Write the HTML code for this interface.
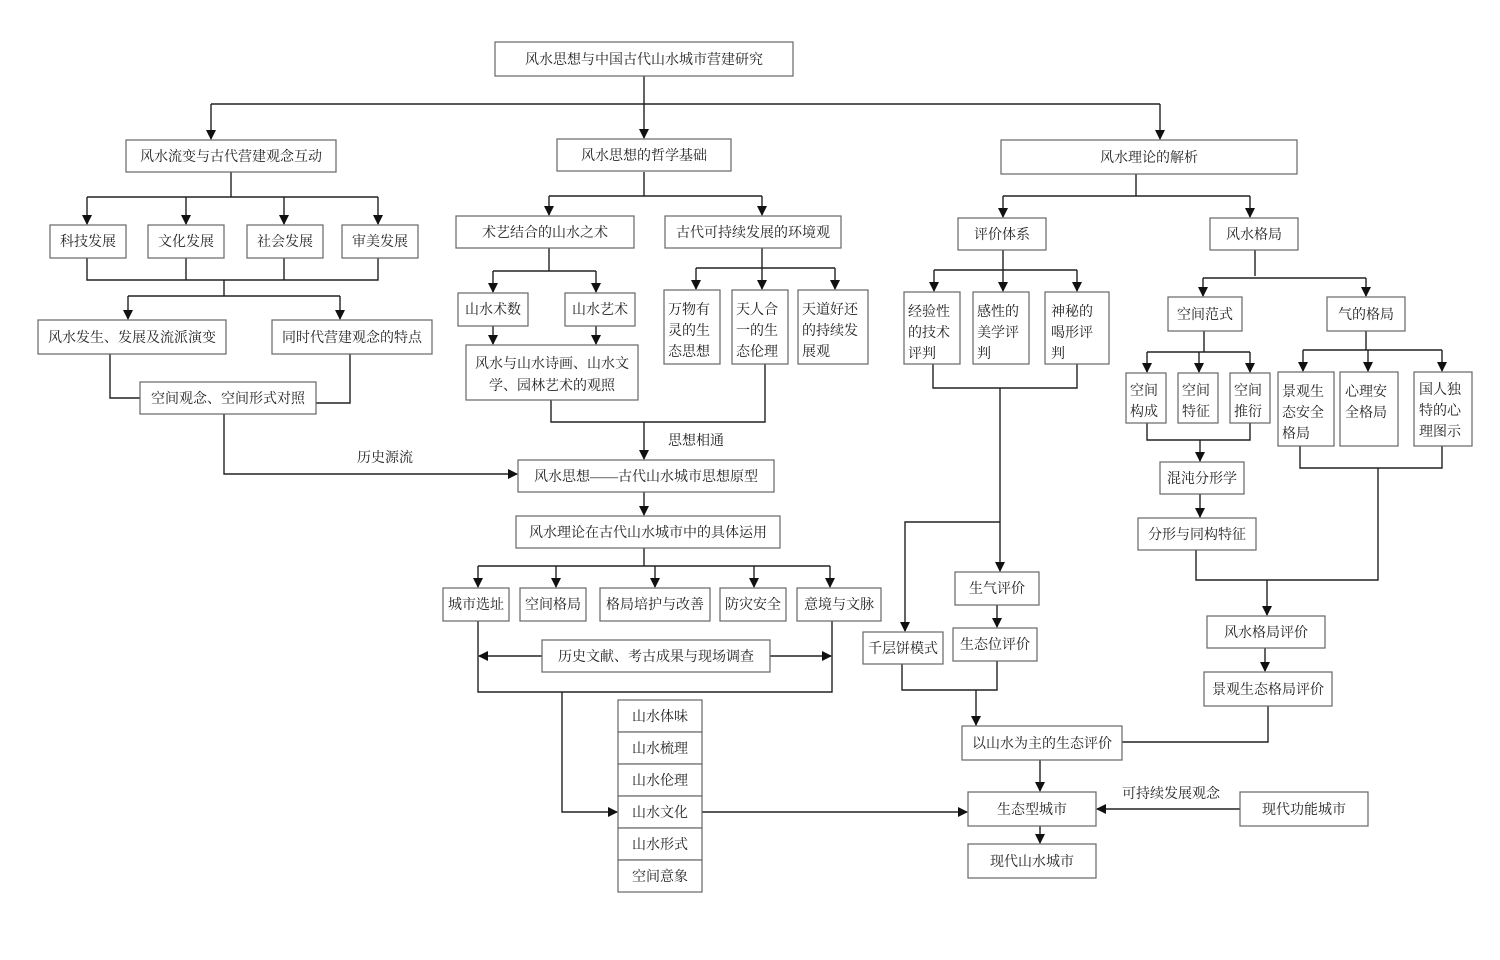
<!DOCTYPE html>
<html><head><meta charset="utf-8"><style>
html,body{margin:0;padding:0;background:#fff;}
svg{display:block}
text{font-family:"Liberation Serif","Noto Serif CJK SC",serif;font-size:14px;fill:#222;}
.b{fill:#fff;stroke:#666;stroke-width:1.2}
.l{stroke:#222;stroke-width:1.4;fill:none}
</style></head><body>
<svg width="1500" height="960" viewBox="0 0 1500 960" xmlns="http://www.w3.org/2000/svg">
<defs><marker id="a" markerWidth="10" markerHeight="10" refX="9" refY="5" orient="auto" markerUnits="userSpaceOnUse"><path d="M0,0 L10,5 L0,10 z" fill="#111"/></marker></defs>
<g class="l">
<path d="M644,76 V104 M211,104 H1160"/>
<path d="M211,104 V139" marker-end="url(#a)"/><path d="M644,104 V138" marker-end="url(#a)"/><path d="M1160,104 V139" marker-end="url(#a)"/>
<!-- left -->
<path d="M231,172 V197 M87,197 H378"/>
<path d="M87,197 V224" marker-end="url(#a)"/><path d="M186,197 V224" marker-end="url(#a)"/><path d="M284,197 V224" marker-end="url(#a)"/><path d="M378,197 V224" marker-end="url(#a)"/>
<path d="M87,258 V280 H378 V258 M186,258 V280 M284,258 V280 M224,280 V296 M128,296 H340"/>
<path d="M128,296 V319" marker-end="url(#a)"/><path d="M340,296 V319" marker-end="url(#a)"/>
<path d="M110,354 V398 H140 M350,354 V403 H316"/>
<path d="M224,414 V474 H517" marker-end="url(#a)"/>
<!-- middle -->
<path d="M644,172 V196 M549,196 H762"/>
<path d="M549,196 V215" marker-end="url(#a)"/><path d="M762,196 V215" marker-end="url(#a)"/>
<path d="M549,248 V271 M493,271 H596"/>
<path d="M493,271 V292" marker-end="url(#a)"/><path d="M596,271 V292" marker-end="url(#a)"/>
<path d="M493,326 V344" marker-end="url(#a)"/><path d="M596,326 V344" marker-end="url(#a)"/>
<path d="M762,248 V268 M696,268 H835"/>
<path d="M696,268 V289" marker-end="url(#a)"/><path d="M762,268 V289" marker-end="url(#a)"/><path d="M835,268 V289" marker-end="url(#a)"/>
<path d="M551,400 V422 H765 V364"/>
<path d="M644,422 V459" marker-end="url(#a)"/>
<path d="M644,492 V515" marker-end="url(#a)"/>
<path d="M644,548 V566 M478,566 H830"/>
<path d="M478,566 V587" marker-end="url(#a)"/><path d="M556,566 V587" marker-end="url(#a)"/><path d="M655,566 V587" marker-end="url(#a)"/><path d="M754,566 V587" marker-end="url(#a)"/><path d="M830,566 V587" marker-end="url(#a)"/>
<path d="M542,656 H479" marker-end="url(#a)"/><path d="M770,656 H831" marker-end="url(#a)"/>
<path d="M478,621 V692 H832 V621"/>
<path d="M562,692 V812 H617" marker-end="url(#a)"/>
<path d="M702,812 H967" marker-end="url(#a)"/>
<!-- right -->
<path d="M1136,174 V196 M1003,196 H1250"/>
<path d="M1003,196 V217" marker-end="url(#a)"/><path d="M1250,196 V217" marker-end="url(#a)"/>
<path d="M1003,250 V270 M934,270 H1077"/>
<path d="M934,270 V291" marker-end="url(#a)"/><path d="M1003,270 V291" marker-end="url(#a)"/><path d="M1077,270 V291" marker-end="url(#a)"/>
<path d="M933,364 V388 H1077 V364"/>
<path d="M1000,388 V571" marker-end="url(#a)"/>
<path d="M1000,522 H905 V631" marker-end="url(#a)"/>
<path d="M997,605 V627" marker-end="url(#a)"/>
<path d="M902,664 V690 H997 V661"/>
<path d="M976,690 V725" marker-end="url(#a)"/>
<path d="M1255,250 V276 M1203,278 H1366"/>
<path d="M1203,278 V296" marker-end="url(#a)"/><path d="M1366,278 V296" marker-end="url(#a)"/>
<path d="M1204,331 V352 M1147,352 H1250"/>
<path d="M1147,352 V372" marker-end="url(#a)"/><path d="M1199,352 V372" marker-end="url(#a)"/><path d="M1250,352 V372" marker-end="url(#a)"/>
<path d="M1147,423 V440 H1250 V423"/>
<path d="M1200,440 V461" marker-end="url(#a)"/>
<path d="M1200,494 V517" marker-end="url(#a)"/>
<path d="M1366,331 V350 M1303,350 H1442"/>
<path d="M1303,350 V371" marker-end="url(#a)"/><path d="M1368,350 V371" marker-end="url(#a)"/><path d="M1442,350 V371" marker-end="url(#a)"/>
<path d="M1300,446 V468 H1442 V446 M1378,468 V580 H1196 V550"/>
<path d="M1267,580 V615" marker-end="url(#a)"/>
<path d="M1265,648 V671" marker-end="url(#a)"/>
<path d="M1268,706 V742 H1122"/>
<path d="M1040,760 V791" marker-end="url(#a)"/>
<path d="M1040,826 V843" marker-end="url(#a)"/>
<path d="M1240,809 H1097" marker-end="url(#a)"/>
</g>
<g>
<rect class="b" x="495" y="42" width="298" height="34"/>
<rect class="b" x="126" y="140" width="210" height="32"/>
<rect class="b" x="557" y="139" width="174" height="32"/>
<rect class="b" x="1001" y="140" width="296" height="34"/>
<rect class="b" x="50" y="225" width="76" height="33"/>
<rect class="b" x="148" y="225" width="76" height="33"/>
<rect class="b" x="247" y="225" width="76" height="33"/>
<rect class="b" x="342" y="225" width="76" height="33"/>
<rect class="b" x="38" y="320" width="188" height="34"/>
<rect class="b" x="272" y="320" width="160" height="34"/>
<rect class="b" x="140" y="382" width="176" height="32"/>
<rect class="b" x="456" y="216" width="178" height="32"/>
<rect class="b" x="665" y="216" width="176" height="32"/>
<rect class="b" x="458" y="293" width="70" height="33"/>
<rect class="b" x="565" y="293" width="70" height="33"/>
<rect class="b" x="466" y="345" width="172" height="55"/>
<rect class="b" x="664" y="290" width="56" height="74"/>
<rect class="b" x="732" y="290" width="56" height="74"/>
<rect class="b" x="798" y="290" width="70" height="74"/>
<rect class="b" x="518" y="460" width="256" height="32"/>
<rect class="b" x="516" y="516" width="264" height="32"/>
<rect class="b" x="443" y="588" width="66" height="33"/>
<rect class="b" x="520" y="588" width="66" height="33"/>
<rect class="b" x="600" y="588" width="110" height="33"/>
<rect class="b" x="720" y="588" width="66" height="33"/>
<rect class="b" x="797" y="588" width="84" height="33"/>
<rect class="b" x="542" y="640" width="228" height="32"/>
<rect class="b" x="618" y="700" width="84" height="32"/>
<rect class="b" x="618" y="732" width="84" height="32"/>
<rect class="b" x="618" y="764" width="84" height="32"/>
<rect class="b" x="618" y="796" width="84" height="32"/>
<rect class="b" x="618" y="828" width="84" height="32"/>
<rect class="b" x="618" y="860" width="84" height="32"/>
<rect class="b" x="958" y="218" width="88" height="32"/>
<rect class="b" x="1210" y="218" width="88" height="32"/>
<rect class="b" x="904" y="292" width="56" height="72"/>
<rect class="b" x="973" y="292" width="56" height="72"/>
<rect class="b" x="1045" y="292" width="64" height="72"/>
<rect class="b" x="955" y="572" width="84" height="33"/>
<rect class="b" x="953" y="628" width="84" height="33"/>
<rect class="b" x="863" y="632" width="80" height="32"/>
<rect class="b" x="962" y="726" width="160" height="34"/>
<rect class="b" x="1168" y="297" width="74" height="34"/>
<rect class="b" x="1327" y="297" width="78" height="34"/>
<rect class="b" x="1126" y="373" width="40" height="50"/>
<rect class="b" x="1178" y="373" width="40" height="50"/>
<rect class="b" x="1230" y="373" width="40" height="50"/>
<rect class="b" x="1160" y="462" width="84" height="32"/>
<rect class="b" x="1138" y="518" width="118" height="32"/>
<rect class="b" x="1278" y="372" width="56" height="74"/>
<rect class="b" x="1340" y="372" width="58" height="74"/>
<rect class="b" x="1414" y="372" width="58" height="74"/>
<rect class="b" x="1207" y="616" width="118" height="32"/>
<rect class="b" x="1204" y="672" width="128" height="34"/>
<rect class="b" x="968" y="792" width="128" height="34"/>
<rect class="b" x="968" y="844" width="128" height="34"/>
<rect class="b" x="1240" y="792" width="128" height="34"/>
</g>
<g text-anchor="middle">
<text x="644" y="64">风水思想与中国古代山水城市营建研究</text>
<text x="231" y="161">风水流变与古代营建观念互动</text>
<text x="644" y="160">风水思想的哲学基础</text>
<text x="1149" y="162">风水理论的解析</text>
<text x="88" y="246">科技发展</text>
<text x="186" y="246">文化发展</text>
<text x="285" y="246">社会发展</text>
<text x="380" y="246">审美发展</text>
<text x="132" y="342">风水发生、发展及流派演变</text>
<text x="352" y="342">同时代营建观念的特点</text>
<text x="228" y="403">空间观念、空间形式对照</text>
<text x="545" y="237">术艺结合的山水之术</text>
<text x="753" y="237">古代可持续发展的环境观</text>
<text x="493" y="314">山水术数</text>
<text x="600" y="314">山水艺术</text>
<text x="552" y="368">风水与山水诗画、山水文</text>
<text x="552" y="390">学、园林艺术的观照</text>
<text x="646" y="481">风水思想——古代山水城市思想原型</text>
<text x="648" y="537">风水理论在古代山水城市中的具体运用</text>
<text x="476" y="609">城市选址</text>
<text x="553" y="609">空间格局</text>
<text x="655" y="609">格局培护与改善</text>
<text x="753" y="609">防灾安全</text>
<text x="839" y="609">意境与文脉</text>
<text x="656" y="661">历史文献、考古成果与现场调查</text>
<text x="660" y="721">山水体味</text>
<text x="660" y="753">山水梳理</text>
<text x="660" y="785">山水伦理</text>
<text x="660" y="817">山水文化</text>
<text x="660" y="849">山水形式</text>
<text x="660" y="881">空间意象</text>
<text x="1002" y="239">评价体系</text>
<text x="1254" y="239">风水格局</text>
<text x="997" y="593">生气评价</text>
<text x="995" y="649">生态位评价</text>
<text x="903" y="653">千层饼模式</text>
<text x="1042" y="748">以山水为主的生态评价</text>
<text x="1205" y="319">空间范式</text>
<text x="1366" y="319">气的格局</text>
<text x="1202" y="483">混沌分形学</text>
<text x="1197" y="539">分形与同构特征</text>
<text x="1266" y="637">风水格局评价</text>
<text x="1268" y="694">景观生态格局评价</text>
<text x="1032" y="814">生态型城市</text>
<text x="1032" y="866">现代山水城市</text>
<text x="1304" y="814">现代功能城市</text>
</g>
<g>
<text x="668" y="314">万物有</text><text x="668" y="335">灵的生</text><text x="668" y="356">态思想</text>
<text x="736" y="314">天人合</text><text x="736" y="335">一的生</text><text x="736" y="356">态伦理</text>
<text x="802" y="314">天道好还</text><text x="802" y="335">的持续发</text><text x="802" y="356">展观</text>
<text x="908" y="316">经验性</text><text x="908" y="337">的技术</text><text x="908" y="358">评判</text>
<text x="977" y="316">感性的</text><text x="977" y="337">美学评</text><text x="977" y="358">判</text>
<text x="1051" y="316">神秘的</text><text x="1051" y="337">喝形评</text><text x="1051" y="358">判</text>
<text x="1130" y="395">空间</text><text x="1130" y="416">构成</text>
<text x="1182" y="395">空间</text><text x="1182" y="416">特征</text>
<text x="1234" y="395">空间</text><text x="1234" y="416">推衍</text>
<text x="1282" y="396">景观生</text><text x="1282" y="417">态安全</text><text x="1282" y="438">格局</text>
<text x="1345" y="396">心理安</text><text x="1345" y="417">全格局</text>
<text x="1419" y="394">国人独</text><text x="1419" y="415">特的心</text><text x="1419" y="436">理图示</text>
<text x="357" y="462">历史源流</text>
<text x="668" y="445">思想相通</text>
<text x="1122" y="798">可持续发展观念</text>
</g>
</svg>
</body></html>
